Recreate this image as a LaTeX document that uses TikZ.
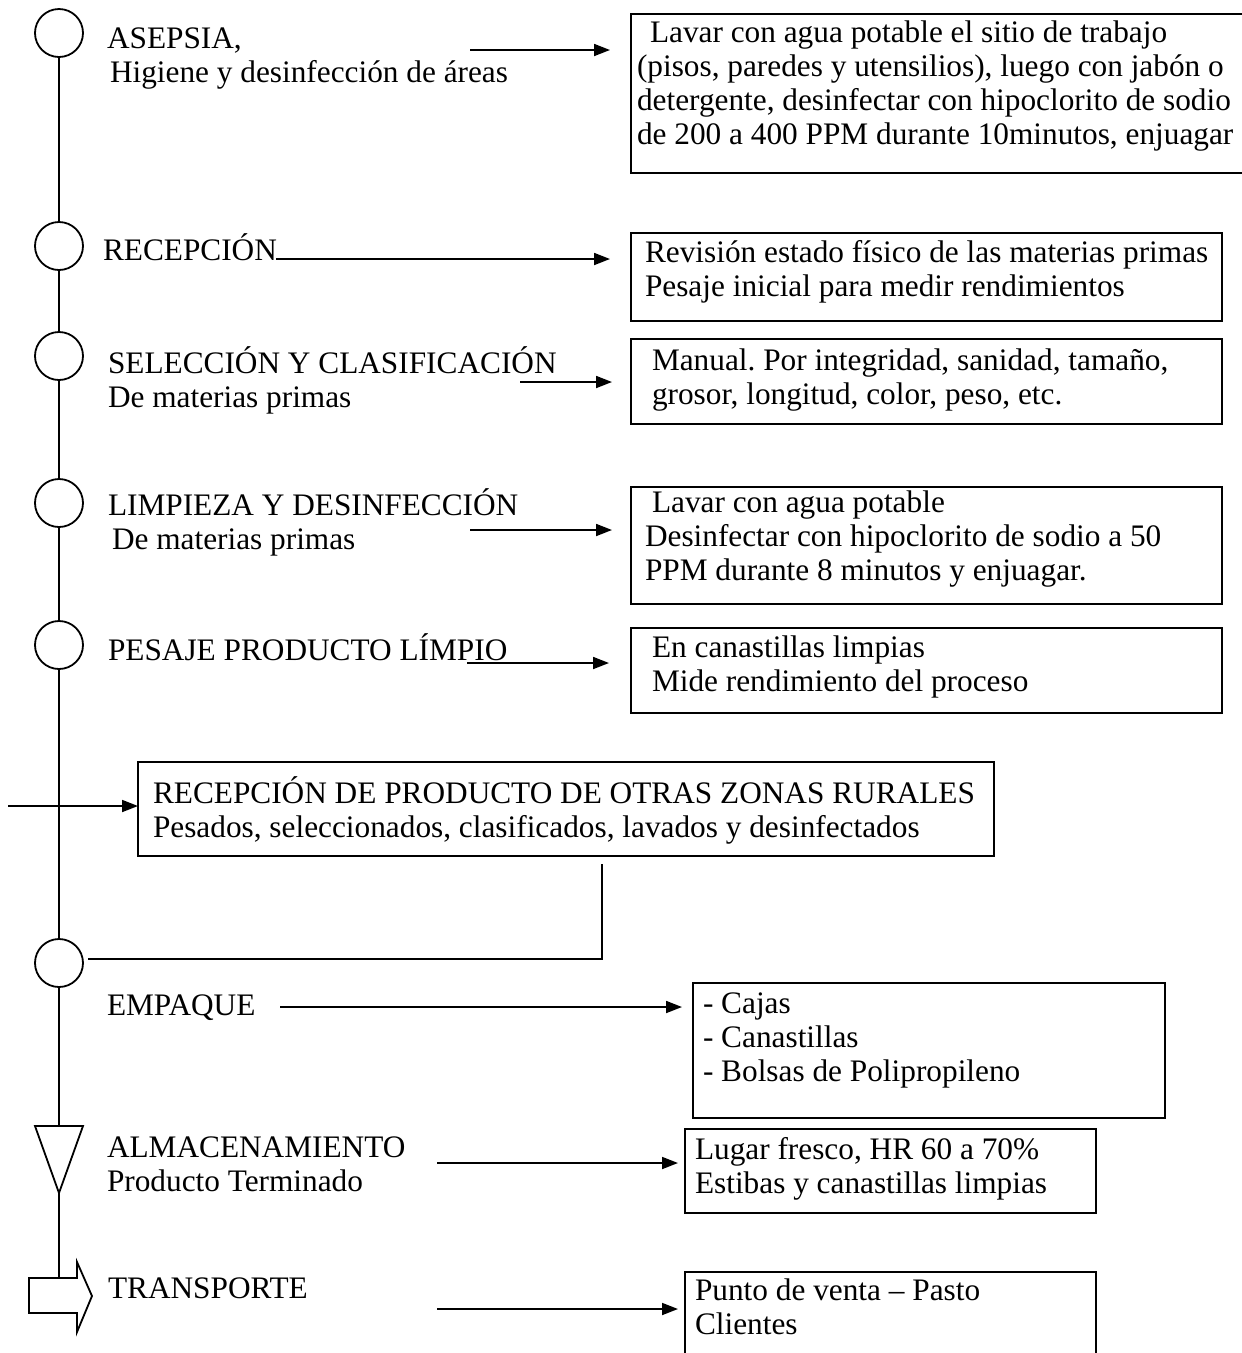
\documentclass[tikz,border=0pt]{standalone}
\usepackage{fontspec}
\setmainfont{Liberation Serif}
\usetikzlibrary{arrows.meta}
\frenchspacing
\begin{document}
\begin{tikzpicture}[x=1pt,y=-1pt,
  every node/.style={inner sep=0pt, outer sep=0pt},
  ln/.style={line width=1.8pt},
  stepcirc/.style={circle, draw, line width=1.8pt, minimum size=48pt},
  box/.style={draw, line width=1.8pt, anchor=north west},
  txt/.style={anchor=north west, align=left, font=\fontsize{31.3}{34}\selectfont},
  arr/.style={line width=1.8pt, -{Triangle[length=16pt,width=12pt]}},
]
\useasboundingbox (0,0) rectangle (1242,1353);
\clip (0,0) rectangle (1242,1353);

% process symbols on the main line
\node[stepcirc] (c1) at (59,33) {};
\node[stepcirc] (c2) at (59,246) {};
\node[stepcirc] (c3) at (59,356) {};
\node[stepcirc] (c4) at (59,503) {};
\node[stepcirc] (c5) at (59,645) {};
\node[stepcirc] (c6) at (59,963) {};
\coordinate (tl) at (35,1126);
\coordinate (tm) at (59,1126);
\coordinate (tr) at (83,1126);
\coordinate (tc) at (59,1193);
\coordinate (bt) at (59,1278);

\draw[ln] (c1) -- (c2);
\draw[ln] (c2) -- (c3);
\draw[ln] (c3) -- (c4);
\draw[ln] (c4) -- (c5);
\draw[ln] (c5) -- (c6);
\draw[ln] (c6) -- (tm);
% storage triangle
\draw[ln, line join=miter] (tl) -- (tr) -- (tc) -- cycle;
\draw[ln] (tc) -- (bt);
% transport block arrow
\draw[ln, line join=miter] (29,1278) -- (77,1278) -- (77,1262) -- (92,1296)
  -- (77,1332) -- (77,1313) -- (29,1313) -- cycle;

% step labels
\node[txt] (l1) at (107,24.2) {\strut ASEPSIA,\\\hspace*{3pt}Higiene y desinfección de áreas};
\node[txt] (l2) at (103,233.2) {\strut RECEPCIÓN};
\node[txt] (l3) at (108,346.2) {\strut SELECCIÓN Y CLASIFICACIÓN\\De materias primas};
\node[txt] (l4) at (108,488.2) {\strut LIMPIEZA Y DESINFECCIÓN\\\hspace*{4pt}De materias primas};
\node[txt] (l5) at (108,633.2) {\strut PESAJE PRODUCTO LÍMPIO};
\node[txt] (l6) at (107,991.2) {\strut EMPAQUE};
\node[txt] (l7) at (107,1133.2) {\strut ALMACENAMIENTO\\Producto Terminado};
\node[txt] (l8) at (108,1274.2) {\strut TRANSPORTE};

% description boxes
\node[box, minimum width=640pt, minimum height=159pt] (b1) at (631,14) {};
\node[box, minimum width=591pt, minimum height=88pt] (b2) at (631,233) {};
\node[box, minimum width=591pt, minimum height=85pt] (b3) at (631,339) {};
\node[box, minimum width=591pt, minimum height=117pt] (b4) at (631,487) {};
\node[box, minimum width=591pt, minimum height=85pt] (b5) at (631,628) {};
\node[box, minimum width=856pt, minimum height=94pt] (b6) at (138,762) {};
\node[box, minimum width=472pt, minimum height=135pt] (b7) at (693,983) {};
\node[box, minimum width=411pt, minimum height=84pt] (b8) at (685,1129) {};
\node[box, minimum width=411pt, minimum height=100pt] (b9) at (685,1272) {};

\node[txt] (t1) at (637,18.2) {\strut\hspace*{13pt}Lavar con agua potable el sitio de trabajo\\(pisos, paredes y utensilios), luego con jabón o\\detergente, desinfectar con hipoclorito de sodio\\de 200 a 400 PPM durante 10minutos, enjuagar};
\node[txt] (t2) at (645,238.2) {\strut Revisión estado físico de las materias primas\\Pesaje inicial para medir rendimientos};
\node[txt] (t3) at (652,346.2) {\strut Manual. Por integridad, sanidad, tamaño,\\grosor, longitud, color, peso, etc.};
\node[txt] (t4) at (645,488.2) {\strut\hspace*{7pt}Lavar con agua potable\\Desinfectar con hipoclorito de sodio a 50\\PPM durante 8 minutos y enjuagar.};
\node[txt] (t5) at (652,633.2) {\strut En canastillas limpias\\Mide rendimiento del proceso};
\node[txt] (t6) at (153,776.2) {\strut RECEPCIÓN DE PRODUCTO DE OTRAS ZONAS RURALES\\Pesados, seleccionados, clasificados, lavados y desinfectados};
\node[txt] (t7) at (703,989.2) {\strut - Cajas\\- Canastillas\\- Bolsas de Polipropileno};
\node[txt] (t8) at (695,1135.2) {\strut Lugar fresco, HR 60 a 70\%\\Estibas y canastillas limpias};
\node[txt] (t9) at (695,1276.2) {\strut Punto de venta – Pasto\\Clientes};

% connectors from the steps to their boxes
\coordinate (s1) at (470,50);
\coordinate (s2) at (276,259);
\coordinate (s3) at (520,382);
\coordinate (s4) at (470,530);
\coordinate (s5) at (467,663);
\coordinate (s6) at (280,1007);
\coordinate (s7) at (437,1163);
\coordinate (s8) at (437,1309);
\draw[arr, shorten >=21pt] (s1) -- (s1 -| b1.west);
\draw[arr, shorten >=21pt] (s2) -- (s2 -| b2.west);
\draw[arr, shorten >=19pt] (s3) -- (s3 -| b3.west);
\draw[arr, shorten >=19pt] (s4) -- (s4 -| b4.west);
\draw[arr, shorten >=22pt] (s5) -- (s5 -| b5.west);
\draw[arr, shorten >=11pt] (s6) -- (s6 -| b7.west);
\draw[arr, shorten >=7pt] (s7) -- (s7 -| b8.west);
\draw[arr, shorten >=7pt] (s8) -- (s8 -| b9.west);

% product from other rural zones joins the line
\coordinate (in) at (8,806);
\draw[arr] (in) -- (in -| b6.west);
\coordinate (r1) at (602,864);
\coordinate (r2) at (602,959);
\coordinate (r3) at (88,959);
\draw[ln] (r1) -- (r2) -- (r3);
\end{tikzpicture}
\end{document}
